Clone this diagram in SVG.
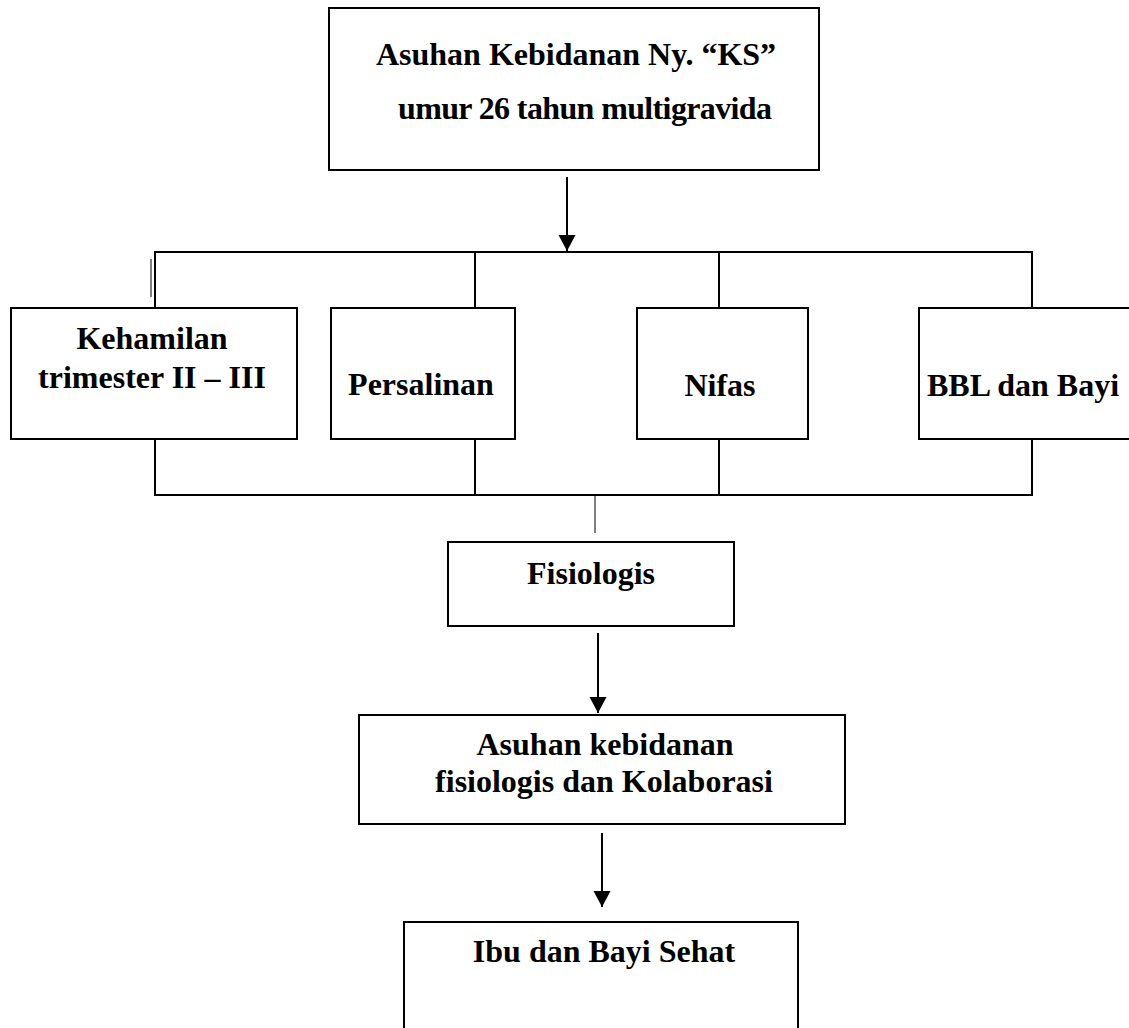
<svg xmlns="http://www.w3.org/2000/svg" width="1129" height="1028" viewBox="0 0 1129 1028">
<defs>
<style>
.box{fill:#fff;stroke:#000;stroke-width:2}
.ln{fill:none;stroke:#000;stroke-width:2}
.thin{fill:none;stroke:#000;stroke-width:1}
.t{font-family:"Liberation Serif","Times New Roman",serif;font-weight:bold;font-size:32px;fill:#000;text-anchor:middle}
</style>
<marker id="ah" markerUnits="userSpaceOnUse" markerWidth="18" markerHeight="18" refX="16" refY="8.5" orient="auto" viewBox="0 0 18 18">
<path d="M0,0 L16,8.5 L0,17 z" fill="#000"/>
</marker>
</defs>
<rect width="1129" height="1028" fill="#fff"/>
<g id="connectors">
<path class="ln" d="M567,177 V251" marker-end="url(#ah)"/>
<path class="ln" d="M155,308 V252 H1032 V308"/>
<path class="ln" d="M475,252 V308"/>
<path class="ln" d="M719,252 V308"/>
<path class="ln" d="M155,439 V495 H1032 V439"/>
<path class="ln" d="M475,439 V495"/>
<path class="ln" d="M719,439 V495"/>
<path class="thin" d="M595,495 V533"/>
<path d="M151,259 V297" stroke="#555" stroke-width="1.5" fill="none"/>
<path class="ln" d="M598,633 V713" marker-end="url(#ah)"/>
<path class="ln" d="M602,833 V907" marker-end="url(#ah)"/>
</g>
<g id="node-main">
<rect class="box" x="329" y="8" width="490" height="162"/>
<text class="t" x="576" y="65">Asuhan Kebidanan Ny. “KS”</text>
<text class="t" x="585" y="119" textLength="374" lengthAdjust="spacing">umur 26 tahun multigravida</text>
</g>
<g id="node-kehamilan">
<rect class="box" x="11" y="308" width="286" height="131"/>
<text class="t" x="152" y="349">Kehamilan</text>
<text class="t" x="152" y="388">trimester II – III</text>
</g>
<g id="node-persalinan">
<rect class="box" x="331" y="308" width="184" height="131"/>
<text class="t" x="421" y="395">Persalinan</text>
</g>
<g id="node-nifas">
<rect class="box" x="637" y="308" width="171" height="131"/>
<text class="t" x="720" y="396">Nifas</text>
</g>
<g id="node-bbl">
<rect class="box" x="919" y="308" width="220" height="131"/>
<text class="t" x="1023" y="396">BBL dan Bayi</text>
</g>
<g id="node-fisiologis">
<rect class="box" x="448" y="542" width="286" height="84"/>
<text class="t" x="591" y="584">Fisiologis</text>
</g>
<g id="node-asuhan">
<rect class="box" x="359" y="715" width="486" height="109"/>
<text class="t" x="605" y="755">Asuhan kebidanan</text>
<text class="t" x="604" y="792">fisiologis dan Kolaborasi</text>
</g>
<g id="node-ibu">
<rect class="box" x="404" y="922" width="394" height="130"/>
<text class="t" x="604" y="962">Ibu dan Bayi Sehat</text>
</g>
</svg>
